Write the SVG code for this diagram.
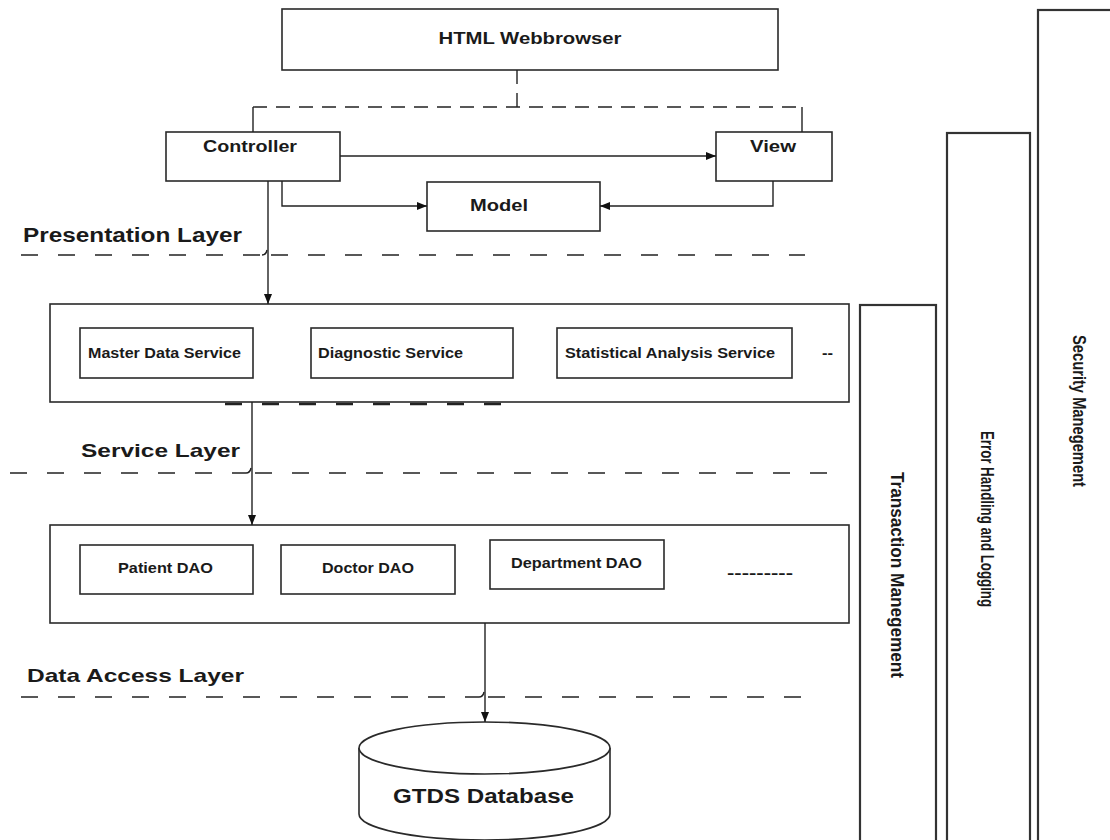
<svg xmlns="http://www.w3.org/2000/svg" width="1110" height="840" viewBox="0 0 1110 840">
<defs>
<style>
.box{fill:#fff;stroke:#2a2a2a;stroke-width:1.6}
.bar{fill:#fff;stroke:#333;stroke-width:2.2}
.ln{fill:none;stroke:#222;stroke-width:1.4}
.dash{fill:none;stroke:#222;stroke-width:1.4;stroke-dasharray:14 9}
.layer{fill:none;stroke:#222;stroke-width:1.5;stroke-dasharray:17 20}
.t{font-family:"Liberation Sans",Arial,sans-serif;font-weight:bold;fill:#1a1a1a}
.t16{font-size:16px}
.t14{font-size:14px}
.t20{font-size:20px}
.mid{text-anchor:middle}
</style>
<marker id="arr" viewBox="0 0 10 10" refX="10" refY="5" markerWidth="10" markerHeight="10" markerUnits="userSpaceOnUse" orient="auto">
<path d="M0,1 L10,5 L0,9 z" fill="#111"/>
</marker>
</defs>
<rect width="1110" height="840" fill="#fff"/>

<g id="security-management">
<rect class="bar" x="1038" y="10" width="90" height="850"/>
<text class="t t14 mid" transform="translate(1073,411) scale(1.25,1) rotate(90)" textLength="152" lengthAdjust="spacingAndGlyphs">Security Manegement</text>
</g>
<g id="error-handling">
<rect class="bar" x="947" y="133" width="83" height="727"/>
<text class="t t14 mid" transform="translate(981,519) scale(1.25,1) rotate(90)" textLength="176" lengthAdjust="spacingAndGlyphs">Error Handling and Logging</text>
</g>
<g id="transaction-management">
<rect class="bar" x="860" y="305" width="76" height="555"/>
<text class="t t14 mid" transform="translate(891,575) scale(1.25,1) rotate(90)" textLength="206" lengthAdjust="spacingAndGlyphs">Transaction Manegement</text>
</g>

<g id="layer-lines">
<path class="layer" d="M21,255 H262"/>
<path class="ln" d="M262,255 Q266,255 267,250"/>
<path class="layer" d="M271,255 H805"/>
<text class="t t20" x="23" y="242" textLength="219" lengthAdjust="spacingAndGlyphs">Presentation Layer</text>
<path class="layer" d="M225,404 H505" style="stroke-width:2.4"/>
<path class="layer" d="M10,473 H246"/>
<path class="ln" d="M246,473 Q250,473 251,468"/>
<path class="layer" d="M255,473 H831"/>
<text class="t" style="font-size:19px" x="81" y="457" textLength="159" lengthAdjust="spacingAndGlyphs">Service Layer</text>
<path class="layer" d="M21,697 H479"/>
<path class="ln" d="M479,697 Q483,697 484,692"/>
<path class="layer" d="M488,697 H804"/>
<text class="t" style="font-size:19px" x="27" y="682" textLength="217" lengthAdjust="spacingAndGlyphs">Data Access Layer</text>
</g>

<g id="html-webbrowser">
<rect class="box" x="282" y="9" width="496" height="61"/>
<text class="t t16 mid" x="530" y="44" textLength="183" lengthAdjust="spacingAndGlyphs">HTML Webbrowser</text>
</g>
<g id="controller">
<rect class="box" x="166" y="132" width="174" height="49"/>
<text class="t t16 mid" x="250" y="152" textLength="94" lengthAdjust="spacingAndGlyphs">Controller</text>
</g>
<g id="view">
<rect class="box" x="716" y="132" width="116" height="49"/>
<text class="t t16 mid" x="773" y="152" textLength="46" lengthAdjust="spacingAndGlyphs">View</text>
</g>
<g id="model">
<rect class="box" x="427" y="182" width="173" height="49"/>
<text class="t t16 mid" x="499" y="211" textLength="58" lengthAdjust="spacingAndGlyphs">Model</text>
</g>

<g id="service-layer">
<rect class="box" x="50" y="304" width="799" height="98"/>
<g id="master-data-service">
<rect class="box" x="80" y="328" width="173" height="50"/>
<text class="t t14" x="88" y="358" textLength="153" lengthAdjust="spacingAndGlyphs">Master Data Service</text>
</g>
<g id="diagnostic-service">
<rect class="box" x="311" y="328" width="202" height="50"/>
<text class="t t14" x="318" y="358" textLength="145" lengthAdjust="spacingAndGlyphs">Diagnostic Service</text>
</g>
<g id="statistical-analysis-service">
<rect class="box" x="557" y="328" width="235" height="50"/>
<text class="t t14" x="565" y="358" textLength="210" lengthAdjust="spacingAndGlyphs">Statistical Analysis Service</text>
</g>
<text class="t t14" x="822" y="358" textLength="11" lengthAdjust="spacingAndGlyphs">--</text>
</g>

<g id="data-access-layer">
<rect class="box" x="50" y="525" width="799" height="98"/>
<g id="patient-dao">
<rect class="box" x="80" y="545" width="173" height="49"/>
<text class="t t14" x="118" y="573" textLength="95" lengthAdjust="spacingAndGlyphs">Patient DAO</text>
</g>
<g id="doctor-dao">
<rect class="box" x="281" y="545" width="174" height="49"/>
<text class="t t14" x="322" y="573" textLength="92" lengthAdjust="spacingAndGlyphs">Doctor DAO</text>
</g>
<g id="department-dao">
<rect class="box" x="490" y="540" width="174" height="49"/>
<text class="t t14" x="511" y="568" textLength="131" lengthAdjust="spacingAndGlyphs">Department DAO</text>
</g>
<text class="t t14" x="727" y="578" textLength="66" lengthAdjust="spacingAndGlyphs">---------</text>
</g>

<g id="gtds-database">
<path class="box" d="M359,748 V814 A125.5,26 0 0 0 610,814 V748"/>
<ellipse class="box" cx="484.5" cy="748" rx="125.5" ry="26"/>
<text class="t t20" x="393" y="803" textLength="181" lengthAdjust="spacingAndGlyphs">GTDS Database</text>
</g>

<g id="connectors">
<path class="dash" d="M517,70 V107"/>
<path class="dash" d="M253,107 H802"/>
<path class="ln" d="M253,107 V132"/>
<path class="ln" d="M802,107 V132"/>
<path class="ln" d="M340,156 H716" marker-end="url(#arr)"/>
<path class="ln" d="M282,181 V206 H427" marker-end="url(#arr)"/>
<path class="ln" d="M773,181 V206 H600" marker-end="url(#arr)"/>
<path class="ln" d="M268,181 V304" marker-end="url(#arr)"/>
<path class="ln" d="M252,402 V525" marker-end="url(#arr)"/>
<path class="ln" d="M485,623 V722" marker-end="url(#arr)"/>
</g>
</svg>
